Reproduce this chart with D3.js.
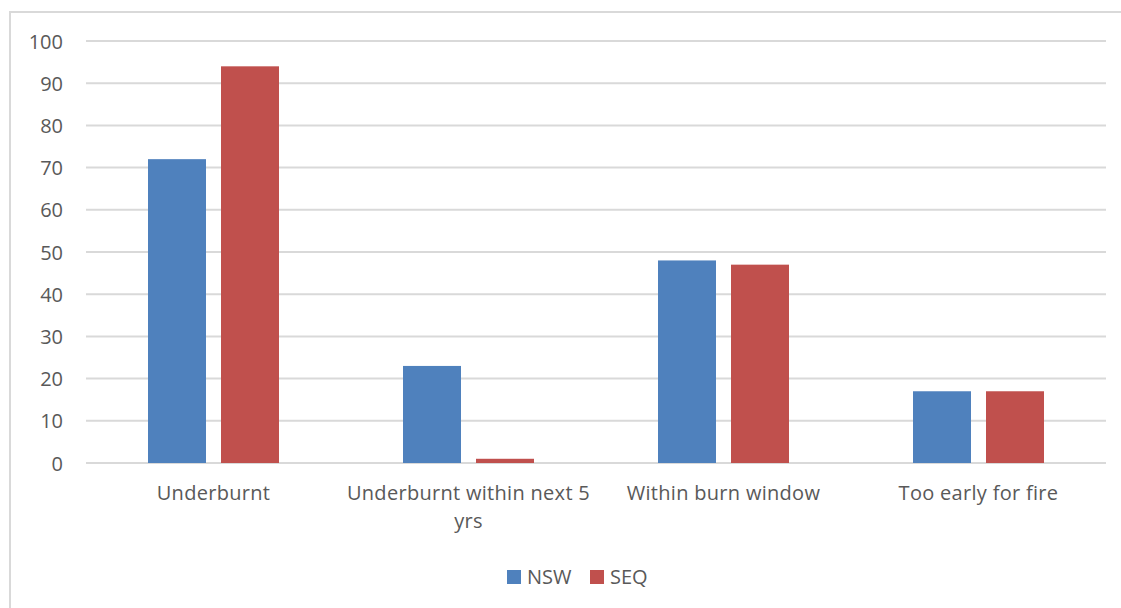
<!DOCTYPE html>
<html>
<head>
<meta charset="utf-8">
<script src="https://cdn.jsdelivr.net/npm/d3@7"></script>
<style>
  html, body { margin: 0; padding: 0; background: #fff; }
  svg { display: block; }
  text { font-family: "Open Sans", sans-serif; fill: #595959; }
</style>
</head>
<body>
<svg id="chart" width="1121" height="608"></svg>
<script>
// Fire-interval status of vegetation, NSW vs SEQ
const categories = [
  ["Underburnt"],
  ["Underburnt within next 5", "yrs"],
  ["Within burn window"],
  ["Too early for fire"]
];
const seriesNames = ["NSW", "SEQ"];
const nswValues = [72, 23, 48, 17];
const seqValues = [94, 1, 47, 17];
const yTicks = [0, 10, 20, 30, 40, 50, 60, 70, 80, 90, 100];
const colors = { NSW: "#4f81bd", SEQ: "#c0504d" };

const svg = d3.select("#chart");
const W = 1121, H = 608;
const plot = { left: 86, right: 1106, top: 41, bottom: 463 };

// chart frame
svg.append("rect")
  .attr("x", 10).attr("y", 12)
  .attr("width", W + 10).attr("height", H + 10)
  .attr("fill", "none").attr("stroke", "#d9d9d9").attr("stroke-width", 2);

const catIndex = categories.map((c, i) => i);
const x0 = d3.scaleBand().domain(catIndex).range([plot.left, plot.right]).paddingInner(0).paddingOuter(0);
const groupWidth = 131;
const x1 = d3.scaleBand().domain(seriesNames)
  .range([(x0.bandwidth() - groupWidth) / 2, (x0.bandwidth() + groupWidth) / 2])
  .paddingInner(15 / 73);
const y = d3.scaleLinear().domain([0, 100]).range([plot.bottom, plot.top]);

// gridlines
svg.append("g").selectAll("line").data(yTicks).join("line")
  .attr("x1", plot.left).attr("x2", plot.right)
  .attr("y1", d => y(d)).attr("y2", d => y(d))
  .attr("stroke", "#d9d9d9").attr("stroke-width", 2);

// y axis labels
const yAxis = d3.axisLeft(y).tickValues(yTicks).tickSize(0).tickPadding(0);
const gy = svg.append("g").attr("transform", `translate(${63},0)`).call(yAxis);
gy.select(".domain").remove();
gy.selectAll("text").attr("font-size", 20).attr("font-family", "Open Sans").attr("fill", "#595959").attr("dy", "0.35em");

// bars
const rows = catIndex.map(i => ({ i, NSW: nswValues[i], SEQ: seqValues[i] }));
const groups = svg.append("g").selectAll("g").data(rows).join("g")
  .attr("transform", d => `translate(${x0(d.i)},0)`);
groups.selectAll("rect").data(d => seriesNames.map(s => ({ s, v: d[s] }))).join("rect")
  .attr("x", d => x1(d.s))
  .attr("width", x1.bandwidth())
  .attr("y", d => y(d.v))
  .attr("height", d => y(0) - y(d.v))
  .attr("fill", d => colors[d.s]);

// category labels
const catLabels = svg.append("g").selectAll("text").data(rows).join("text")
  .attr("x", d => x0(d.i) + x0.bandwidth() / 2)
  .attr("y", 500)
  .attr("text-anchor", "middle")
  .attr("font-size", 20)
  .attr("letter-spacing", 0.3);
catLabels.selectAll("tspan").data(d => categories[d.i]).join("tspan")
  .attr("x", function () { return d3.select(this.parentNode).attr("x"); })
  .attr("dy", (d, k) => k === 0 ? 0 : 28)
  .text(d => d);

// legend
const legend = svg.append("g").attr("transform", "translate(507,570)");
const legendX = { NSW: 0, SEQ: 83 };
const li = legend.selectAll("g").data(seriesNames).join("g")
  .attr("transform", d => `translate(${legendX[d]},0)`);
li.append("rect").attr("width", 14).attr("height", 14).attr("fill", d => colors[d]);
li.append("text").attr("x", 20).attr("y", 14).attr("font-size", 20).text(d => d);
</script>
</body>
</html>
